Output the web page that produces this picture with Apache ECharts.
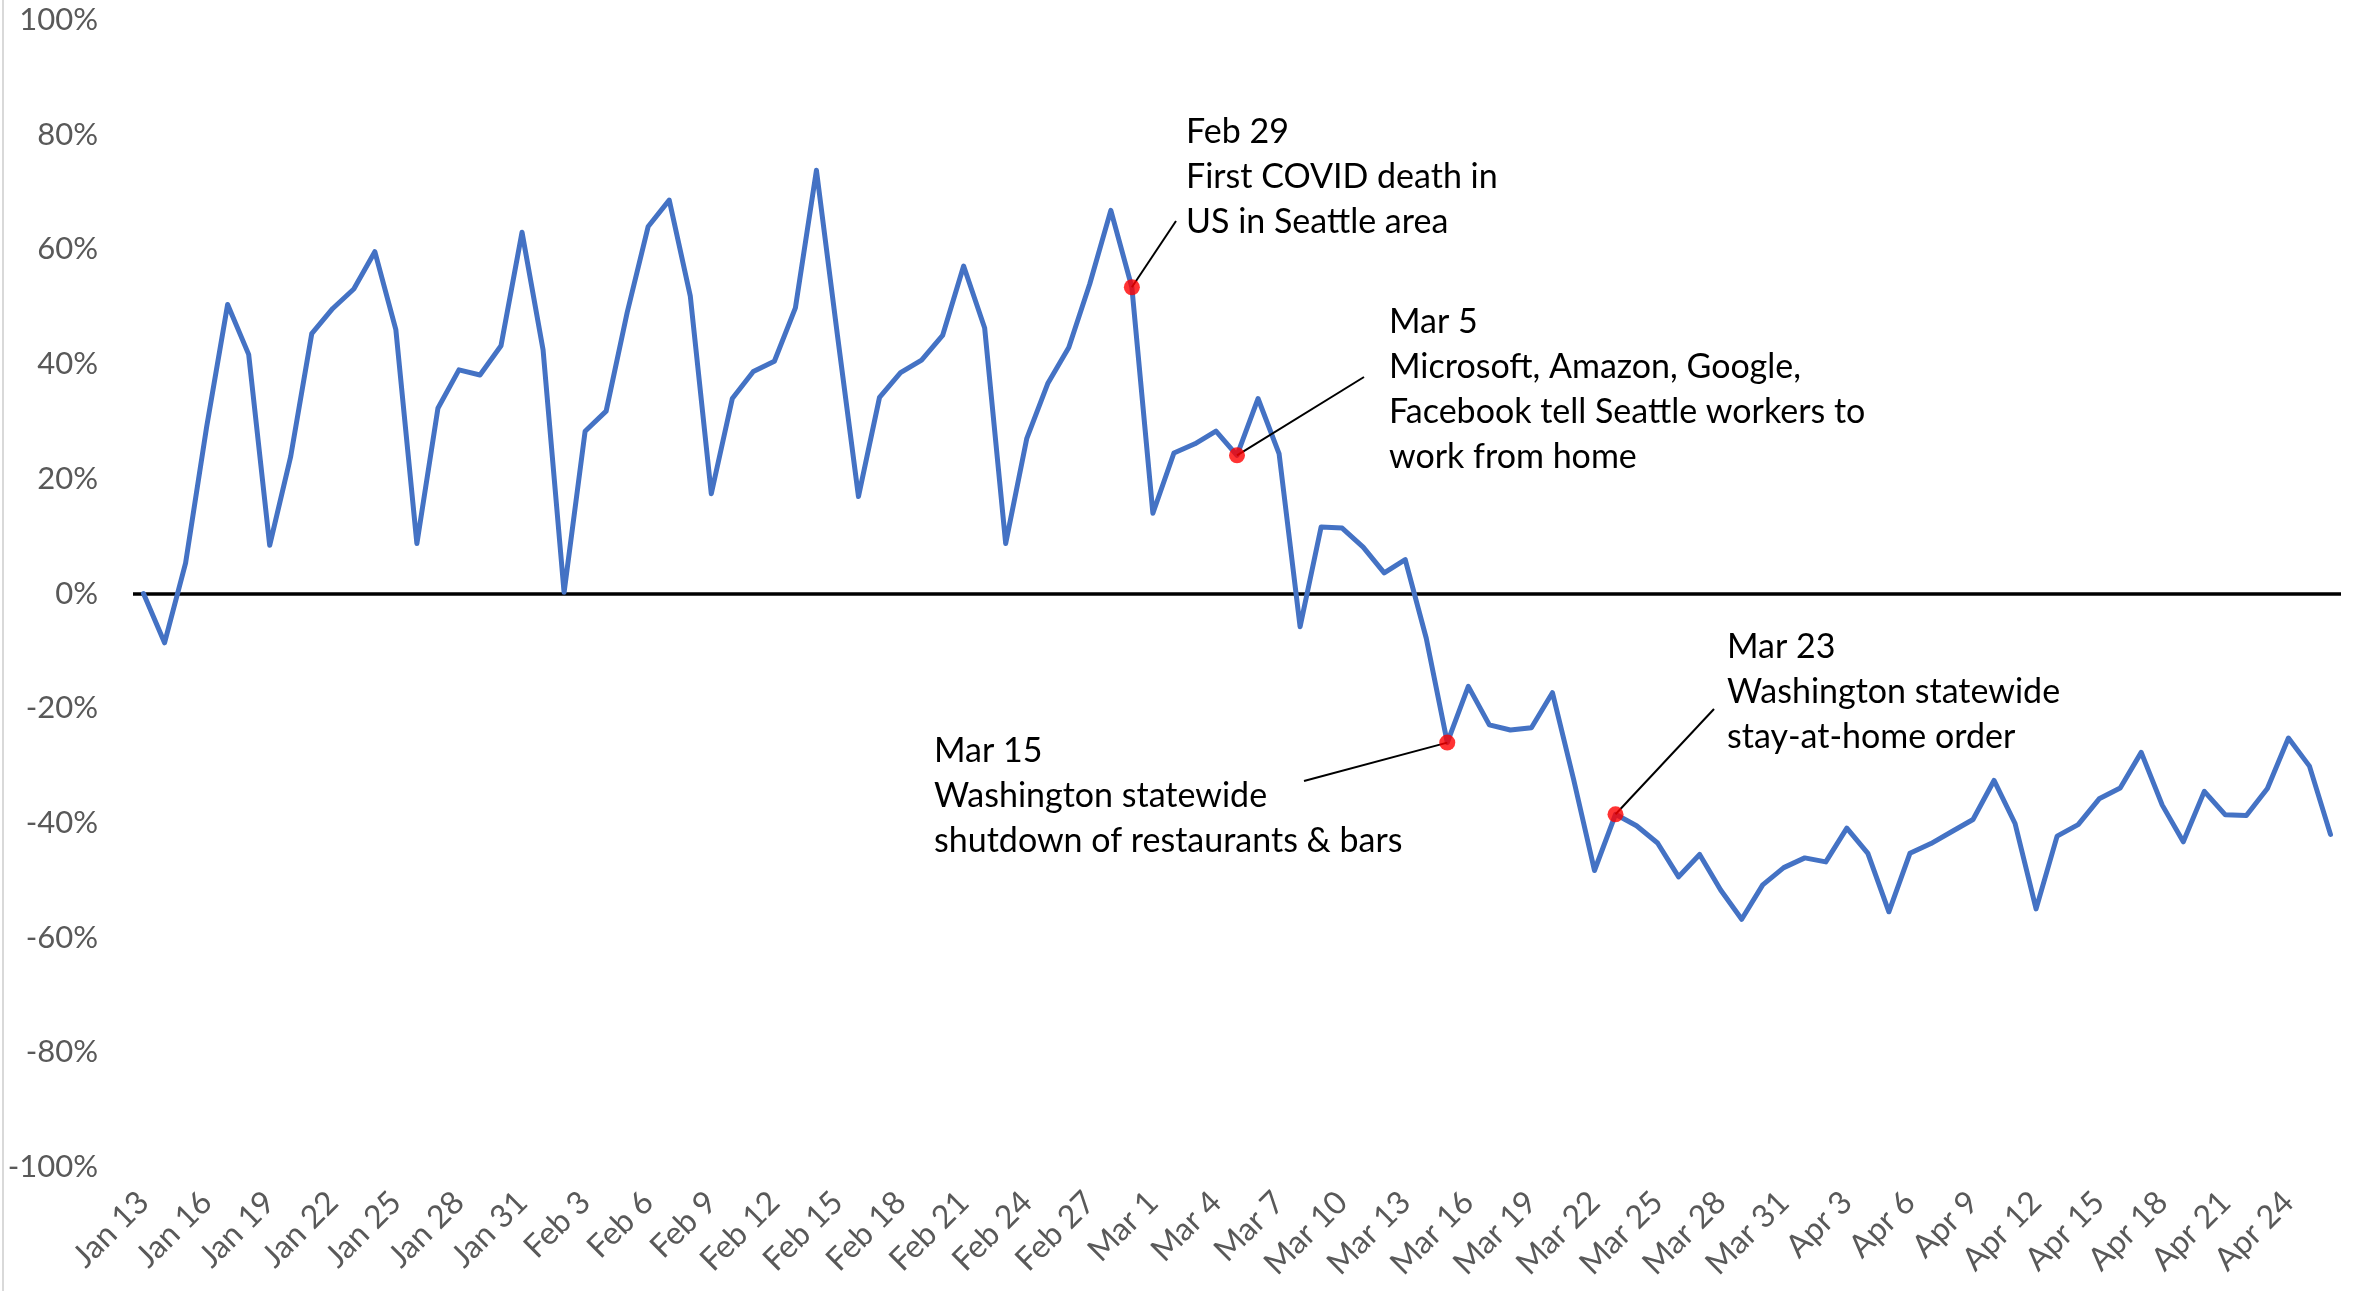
<!DOCTYPE html>
<html><head><meta charset="utf-8">
<script src="https://cdn.jsdelivr.net/npm/echarts@6/dist/echarts.min.js"></script>
<style>html,body{margin:0;padding:0;background:#fff;overflow:hidden}#c{width:2364px;height:1291px}</style>
</head><body><div id="c"></div>
<script>
const categories = [
 'Jan 13','Jan 14','Jan 15','Jan 16','Jan 17','Jan 18','Jan 19','Jan 20','Jan 21','Jan 22','Jan 23','Jan 24','Jan 25','Jan 26','Jan 27','Jan 28','Jan 29','Jan 30','Jan 31',
 'Feb 1','Feb 2','Feb 3','Feb 4','Feb 5','Feb 6','Feb 7','Feb 8','Feb 9','Feb 10','Feb 11','Feb 12','Feb 13','Feb 14','Feb 15','Feb 16','Feb 17','Feb 18','Feb 19','Feb 20','Feb 21','Feb 22','Feb 23','Feb 24','Feb 25','Feb 26','Feb 27','Feb 28','Feb 29',
 'Mar 1','Mar 2','Mar 3','Mar 4','Mar 5','Mar 6','Mar 7','Mar 8','Mar 9','Mar 10','Mar 11','Mar 12','Mar 13','Mar 14','Mar 15','Mar 16','Mar 17','Mar 18','Mar 19','Mar 20','Mar 21','Mar 22','Mar 23','Mar 24','Mar 25','Mar 26','Mar 27','Mar 28','Mar 29','Mar 30','Mar 31',
 'Apr 1','Apr 2','Apr 3','Apr 4','Apr 5','Apr 6','Apr 7','Apr 8','Apr 9','Apr 10','Apr 11','Apr 12','Apr 13','Apr 14','Apr 15','Apr 16','Apr 17','Apr 18','Apr 19','Apr 20','Apr 21','Apr 22','Apr 23','Apr 24','Apr 25','Apr 26'
];
const values = [
 0, -8.6, 5.3, 29, 50.4, 41.7, 8.4, 23.9, 45.3, 49.7, 53.1, 59.6, 46, 8.7, 32.3, 39, 38.1, 43.2, 63,
 42.5, 0.2, 28.3, 31.8, 49, 64, 68.6, 51.9, 17.4, 34, 38.7, 40.5, 49.8, 73.8, 45, 16.9, 34.2, 38.5, 40.7, 45, 57.1, 46.3, 8.7, 27, 36.6, 42.9, 54, 66.8, 53.4,
 14, 24.5, 26.1, 28.3, 24.1, 34, 24.4, -5.8, 11.6, 11.4, 8.1, 3.6, 5.9, -7.8, -26, -16.2, -22.9, -23.8, -23.4, -17.3, -32.3, -48.3, -38.5, -40.5, -43.5, -49.4, -45.5, -51.7, -56.8, -50.8, -47.8,
 -46.1, -46.8, -40.9, -45.3, -55.5, -45.3, -43.6, -41.5, -39.4, -32.6, -40.1, -55, -42.3, -40.3, -35.8, -33.9, -27.7, -36.9, -43.3, -34.5, -38.6, -38.7, -34, -25.2, -30.1, -42
];
const yMin = -100, yMax = 100, yStep = 20;
const eventDates = ['Feb 29', 'Mar 5', 'Mar 15', 'Mar 23'];
const eventTexts = [
 'Feb 29\nFirst COVID death in\nUS in Seattle area',
 'Mar 5\nMicrosoft, Amazon, Google,\nFacebook tell Seattle workers to\nwork from home',
 'Mar 15\nWashington statewide\nshutdown of restaurants & bars',
 'Mar 23\nWashington statewide\nstay-at-home order'
];
// annotation layout (pixels): text top-left and leader-line end
const eventLayout = [
 {tx: 1186, ty: 110, lx: 1176, ly: 221},
 {tx: 1389, ty: 300, lx: 1364, ly: 377},
 {tx: 934,  ty: 729, lx: 1304, ly: 781},
 {tx: 1727, ty: 625, lx: 1714, ly: 709}
];

const FONT = 'Lato, "Open Sans", sans-serif';
const chart = echarts.init(document.getElementById('c'));
const eventData = eventDates.map(d => [d, values[categories.indexOf(d)]]);

chart.setOption({
  animation: false,
  backgroundColor: '#fff',
  grid: {left: 133, right: 23, top: 20, bottom: 124, containLabel: false},
  xAxis: {
    type: 'category', data: categories, boundaryGap: true,
    axisLine: {show: false}, axisTick: {show: false}, splitLine: {show: false},
    axisLabel: {interval: 2, rotate: 45, margin: 30, color: '#595959', fontSize: 32, fontFamily: FONT}
  },
  yAxis: {
    type: 'value', min: yMin, max: yMax, interval: yStep,
    axisLine: {show: false}, axisTick: {show: false}, splitLine: {show: false},
    axisLabel: {formatter: '{value}%', margin: 35, color: '#595959', fontSize: 31, fontFamily: FONT}
  },
  series: [
    {
      type: 'line', data: values, showSymbol: false, symbol: 'none',
      lineStyle: {color: '#4472C4', width: 5, join: 'round', cap: 'round'}, z: 3,
      markLine: {silent: true, symbol: 'none', label: {show: false},
        lineStyle: {color: '#000', width: 3.5, type: 'solid'},
        data: [{yAxis: 0}], z: 2}
    },
    {
      type: 'scatter', data: eventData, symbolSize: 16,
      itemStyle: {color: '#FF0000'}, z: 5
    }
  ]
});

const g = [{type: 'line', shape: {x1: 3, y1: 0, x2: 3, y2: 1291}, style: {stroke: '#d9d9d9', lineWidth: 2}}];
eventData.forEach((p, i) => {
  const px = chart.convertToPixel({seriesIndex: 1}, p);
  const L = eventLayout[i];
  g.push({type: 'line', z: 4, shape: {x1: px[0], y1: px[1], x2: L.lx, y2: L.ly}, style: {stroke: '#000', lineWidth: 2}});
  g.push({type: 'text', x: L.tx, y: L.ty, style: {text: eventTexts[i], font: '34px ' + FONT, fill: '#000', lineHeight: 45, textVerticalAlign: 'top'}});
});
chart.setOption({graphic: g});
</script>
</body></html>
